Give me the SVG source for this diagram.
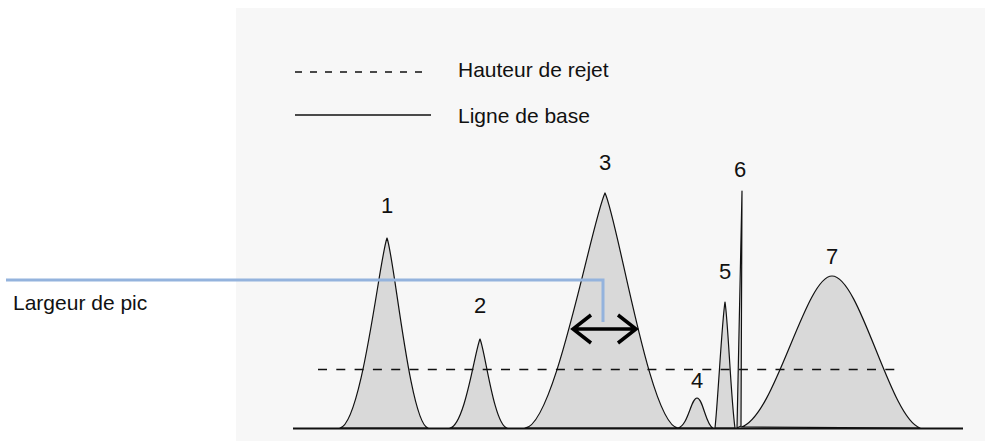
<svg xmlns="http://www.w3.org/2000/svg" width="985" height="441" viewBox="0 0 985 441">
<style>
text{font-family:"Liberation Sans",Arial,sans-serif;font-size:21px;fill:#111}
.num{font-size:22px;text-anchor:middle}
.peak{fill:#d9d9d9;stroke:#111;stroke-width:1.2;stroke-linejoin:round}
.dash{stroke:#111;stroke-width:1.6;fill:none}
</style>
<rect id="panel" x="236" y="8" width="749" height="433" fill="#f7f7f7"/>
<g id="legend">
<line class="dash" x1="295" y1="72" x2="424" y2="72" stroke-dasharray="7 8"/>
<text x="458" y="77">Hauteur de rejet</text>
<line x1="295" y1="115" x2="431" y2="115" stroke="#111" stroke-width="1.6"/>
<text x="458" y="123">Ligne de base</text>
</g>
<g id="peaks">
<path id="peak1" class="peak" d="M340,428 C362,424 380,255 387,238 C394,255 410,424 428,428 Z"/>
<path id="peak2" class="peak" d="M450,428 C465,425 475,350 480,339 C485,350 494,425 507,428 Z"/>
<path id="peak3" class="peak" d="M525,428 C555,426 592,220 605,193 C618,220 650,426 678,428 Z"/>
<path id="peak4" class="peak" d="M678,428 C688,426 691,398 697,398 C703,398 706,426 713,428 Z"/>
<path id="peak5" class="peak" d="M715,428 C718,400 722,320 725,302 C728,320 731,400 735,428 Z"/>
<path id="peak6" class="peak" d="M737,428 L742,191 L741,426 Z"/>
<path id="peak7" class="peak" d="M741,427 C775,418 805,276 832,276 C860,276 890,418 920,428 Z"/>
</g>
<line id="baseline" x1="293" y1="428.5" x2="963" y2="428.5" stroke="#111" stroke-width="2"/>
<line id="threshold" class="dash" x1="318" y1="369.5" x2="902" y2="369.5" stroke-dasharray="9 9.3"/>
<g id="labels">
<text class="num" x="387" y="213">1</text>
<text class="num" x="480" y="313">2</text>
<text class="num" x="605" y="170">3</text>
<text class="num" x="697" y="388">4</text>
<text class="num" x="725" y="279">5</text>
<text class="num" x="740" y="177">6</text>
<text class="num" x="832" y="264">7</text>
</g>
<g id="connectors">
<path d="M6,280 L603,280 L603,322" fill="none" stroke="#94b3dd" stroke-width="3"/>
<path d="M573,329 L636,329 M591,315 L573,329 L591,343 M618,315 L636,329 L618,343" fill="none" stroke="#000" stroke-width="3.5" stroke-linejoin="miter"/>
</g>
<text id="width-label" x="13" y="310">Largeur de pic</text>
</svg>
